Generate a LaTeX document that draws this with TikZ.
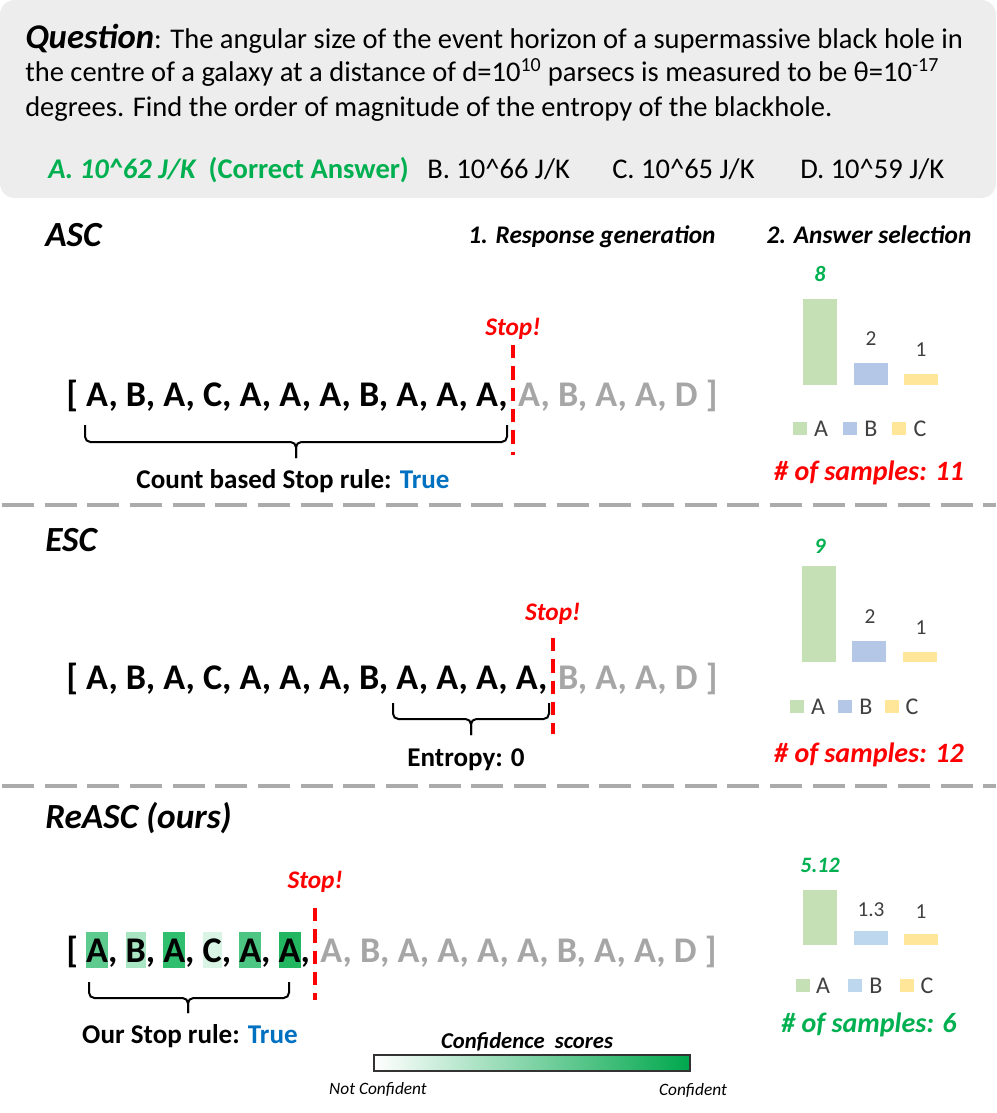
\documentclass[tikz,border=0pt]{standalone}
\usepackage{fontspec}
\setmainfont{Carlito}
\usetikzlibrary{calc}
\definecolor{qbg}{HTML}{EDEDED}
\definecolor{okgreen}{HTML}{00B050}
\definecolor{stopred}{HTML}{FF0000}
\definecolor{trueblue}{HTML}{0070C0}
\definecolor{seqgray}{HTML}{A6A6A6}
\definecolor{sepgray}{HTML}{ABABAB}
\definecolor{numgray}{HTML}{404040}
\definecolor{barA}{HTML}{C5E0B4}
\definecolor{barB}{HTML}{B4C7E7}
\definecolor{barBb}{HTML}{BDD7EE}
\definecolor{barC}{HTML}{FFE699}
\definecolor{hA}{HTML}{5CCB8D}
\definecolor{hB}{HTML}{A9E4C3}
\definecolor{hC}{HTML}{2FBF6E}
\definecolor{hD}{HTML}{D9F4E5}
\definecolor{hE}{HTML}{4CC682}
\definecolor{hF}{HTML}{22B660}
\newcommand\fsz[1]{\fontsize{#1}{#1}\selectfont}
\newcommand\hlbox[2]{{\setlength{\fboxsep}{0pt}\colorbox{#1}{\rule[-4.5pt]{0pt}{27pt}#2}}}
\tikzset{
 qtext/.style={anchor=base west, inner sep=0pt, font=\fsz{21.4pt}},
 sect/.style={anchor=base west, inner sep=0pt, font=\fsz{26.5pt}\bfseries\itshape},
 hdr/.style={anchor=base, inner sep=0pt, font=\fsz{19pt}\bfseries\itshape},
 seq/.style={anchor=base west, inner sep=0pt, font=\fsz{27.1pt}\bfseries},
 seqgray/.style={seq, text=seqgray},
 stoplbl/.style={anchor=base, inner sep=0pt, font=\fsz{19pt}\bfseries\itshape, text=stopred},
 stopline/.style={draw=stopred, line width=3pt, dash pattern=on 10pt off 6pt},
 rulelbl/.style={anchor=base, inner sep=0pt, font=\fsz{20.3pt}\bfseries},
 bracepath/.style={draw, line width=1.5pt, rounded corners=4pt},
 sepline/.style={draw=sepgray, line width=3pt, dash pattern=on 24pt off 8pt},
 barval/.style={inner sep=0pt, font=\fsz{16pt}, text=numgray},
 topval/.style={inner sep=0pt, font=\fsz{16.5pt}\bfseries\itshape, text=okgreen},
 legtxt/.style={inner sep=0pt, font=\fsz{18pt}, text=numgray},
 samplecount/.style={anchor=base, inner sep=0pt, font=\fsz{21pt}\bfseries\itshape},
 conflbl/.style={inner sep=0pt, font=\fsz{13pt}\itshape},
}
\begin{document}
\begin{tikzpicture}[x=0.75pt,y=-0.75pt]
\useasboundingbox (0,0) rectangle (996,1113);
% question box
\fill[qbg, rounded corners=11pt] (0,0) rectangle (996,198);
\node[qtext] (q1) at (25,49) {{\fsz{26pt}\bfseries\itshape Question}: The angular size of the event horizon of a supermassive black hole in};
\node[qtext] (q2) at (25,82) {the centre of a galaxy at a distance of d=10\textsuperscript{10} parsecs is measured to be θ=10\textsuperscript{-17}};
\node[qtext] (q3) at (25,116) {degrees. Find the order of magnitude of the entropy of the blackhole.};
\node[qtext, text=okgreen, font=\fsz{21.4pt}\bfseries] (ansA) at (48,178) {{\itshape A. 10\^{}62 J/K}\ \ (Correct Answer)};
\node[qtext] (ansB) at (427,178) {B. 10\^{}66 J/K};
\node[qtext] (ansC) at (612,178) {C. 10\^{}65 J/K};
\node[qtext] (ansD) at (800,178) {D. 10\^{}59 J/K};
% headers
\node[sect] (asc) at (45,246) {ASC};
\node[hdr] (h1) at (592,243) {1. Response generation};
\node[hdr] (h2) at (869,243) {2. Answer selection};
% separators
\draw[sepline] (2,505) -- (996,505);
\draw[sepline] (2,786) -- (996,786);
% ===== ASC =====
\node[seq] (ascb) at (66,406) {[ A, B, A, C, A, A, A, B, A, A, A,};
\coordinate (asccut) at ($(ascb.base east)+(5,0)$);
\node[seqgray] (ascg) at ($(ascb.base east)+(10,0)$) {A, B, A, A, D ]};
\draw[stopline] ($(asccut)+(0,-61)$) -- ($(asccut)+(0,49)$);
\node[stoplbl] (ascstop) at ($(asccut)+(0,-71)$) {Stop!};
\draw[bracepath] (85,425) |- (296,442) -- (296,458);
\draw[bracepath] (507,425) |- (296,442) -- (296,458);
\node[rulelbl] (ascrule) at (293,488) {Count based Stop rule: \textcolor{trueblue}{True}};
% ASC bars
\fill[barA] (803,299) rectangle (837,385);
\fill[barB] (854,363) rectangle (888,385);
\fill[barC] (904,374) rectangle (938,385);
\node[topval] (asc8) at (820,274) {8};
\node[barval] (asc2) at (871,339) {2};
\node[barval] (asc1) at (921,350) {1};
\fill[barA] (793,422) rectangle (807,435);
\node[legtxt] (ascLA) at (821,429) {A};
\fill[barB] (843,422) rectangle (857,435);
\node[legtxt] (ascLB) at (871,429) {B};
\fill[barC] (892,422) rectangle (906,435);
\node[legtxt] (ascLC) at (920,429) {C};
\node[samplecount, text=stopred] (ascs) at (869,480) {\# of samples: 11};
% ===== ESC =====
\node[sect] (esc) at (45,551) {ESC};
\node[seq] (escb) at (66,689) {[ A, B, A, C, A, A, A, B, A, A, A, A,};
\coordinate (esccut) at ($(escb.base east)+(5,0)$);
\node[seqgray] (escg) at ($(escb.base east)+(10,0)$) {B, A, A, D ]};
\draw[stopline] ($(esccut)+(0,-51)$) -- ($(esccut)+(0,45)$);
\node[stoplbl] (escstop) at ($(esccut)+(0,-69)$) {Stop!};
\draw[bracepath] (393,703) |- (471,719) -- (471,735);
\draw[bracepath] (549,703) |- (471,719) -- (471,735);
\node[rulelbl] (escrule) at (466,766) {Entropy: 0};
\fill[barA] (802,566) rectangle (836,662);
\fill[barB] (852,641) rectangle (886,662);
\fill[barC] (903,652) rectangle (937,662);
\node[topval] (esc9) at (820,546) {9};
\node[barval] (esc2) at (870,617) {2};
\node[barval] (esc1) at (921,628) {1};
\fill[barA] (790,700) rectangle (804,713);
\node[legtxt] (escLA) at (818,707) {A};
\fill[barB] (838,700) rectangle (852,713);
\node[legtxt] (escLB) at (866,707) {B};
\fill[barC] (885,700) rectangle (899,713);
\node[legtxt] (escLC) at (912,707) {C};
\node[samplecount, text=stopred] (escs) at (869,762) {\# of samples: 12};
% ===== ReASC =====
\node[sect] (reasc) at (45,828) {ReASC (ours)};
\node[seq] (reb) at (66,962) {[ \hlbox{hA}{A}, \hlbox{hB}{B}, \hlbox{hC}{A}, \hlbox{hD}{C}, \hlbox{hE}{A}, \hlbox{hF}{A},};
\coordinate (recut) at ($(reb.base east)+(5,0)$);
\node[seqgray] (reg) at ($(reb.base east)+(10,0)$) {A, B, A, A, A, A, B, A, A, D ]};
\draw[stopline] ($(recut)+(0,-54)$) -- ($(recut)+(0,38)$);
\node[stoplbl] (restop) at ($(recut)+(0,-74)$) {Stop!};
\draw[bracepath] (89,982) |- (188,998) -- (188,1013);
\draw[bracepath] (289,982) |- (188,998) -- (188,1013);
\node[rulelbl] (rerule) at (190,1043) {Our Stop rule: \textcolor{trueblue}{True}};
\fill[barA] (803,890) rectangle (837,945);
\fill[barBb] (854,931) rectangle (888,945);
\fill[barC] (904,934) rectangle (938,945);
\node[topval] (re512) at (820,865) {5.12};
\node[barval] (re13) at (871,910) {1.3};
\node[barval] (re1) at (921,912) {1};
\fill[barA] (796,979) rectangle (810,992);
\node[legtxt] (reLA) at (823,986) {A};
\fill[barBb] (848,979) rectangle (862,992);
\node[legtxt] (reLB) at (876,986) {B};
\fill[barC] (900,979) rectangle (914,992);
\node[legtxt] (reLC) at (927,986) {C};
\node[samplecount, text=okgreen] (res) at (869,1032) {\# of samples: 6};
% confidence bar
\node[inner sep=0pt, font=\fsz{17pt}\bfseries\itshape] (conft) at (527,1042) {Confidence\ \ scores};
\draw[left color=white, right color=okgreen!95!black, draw=black!80, line width=0.9pt] (374,1055) rectangle (690,1071);
\node[conflbl] (notc) at (378,1089) {Not Confident};
\node[conflbl] (conf) at (693,1090) {Confident};
\end{tikzpicture}
\end{document}
